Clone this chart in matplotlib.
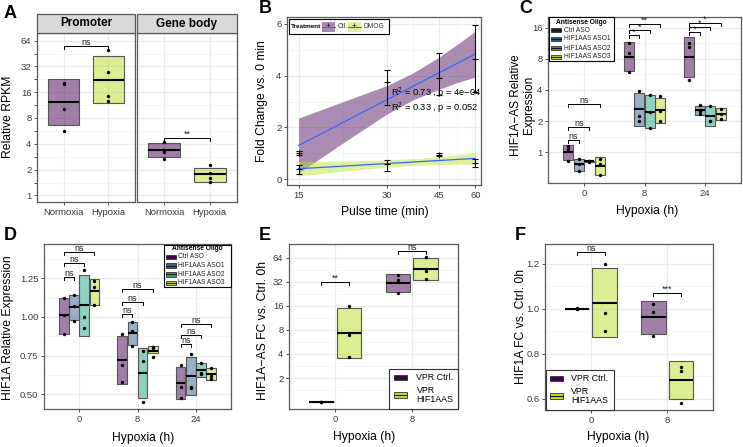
import matplotlib
matplotlib.use('Agg')
import matplotlib.pyplot as plt
from matplotlib.patches import Rectangle
from matplotlib.lines import Line2D
from matplotlib.colors import to_rgba
from matplotlib.ticker import NullFormatter
from matplotlib.transforms import blended_transform_factory

plt.rcParams['font.family'] = ['Liberation Sans', 'DejaVu Sans']
plt.rcParams['mathtext.fontset'] = 'custom'
plt.rcParams['mathtext.rm'] = 'Liberation Sans'
plt.rcParams['mathtext.it'] = 'Liberation Sans:italic'

W, H = 743, 447

# ---------------- data ----------------
# A: relative RPKM, mean +/- sd boxes (log2 scale)
a_groups = ['Normoxia', 'Hypoxia']
prom_lo = [6.6, 12.0]
prom_mid = [12.4, 22.2]
prom_hi = [22.6, 42.3]
prom_pts = [[5.6, 10.3, 19.7, 20.3], [12.6, 14.4, 27.3, 49.8]]
body_lo = [2.81, 1.42]
body_mid = [3.37, 1.75]
body_hi = [4.03, 2.08]
body_pts = [[2.68, 3.2, 3.4, 4.2], [1.42, 1.6, 1.8, 2.24]]

# B: fold change vs pulse time
b_time = [15, 30, 45, 60]
ctl_mean = [1.0, 3.74, 3.91, 4.64]
ctl_err_lo = [0.92, 2.86, 3.26, 3.38]
ctl_err_hi = [1.08, 4.23, 4.86, 5.97]
dmog_mean = [0.37, 0.59, 0.95, 0.62]
dmog_err_lo = [0.2, 0.3, 0.89, 0.45]
dmog_err_hi = [0.55, 0.74, 1.02, 0.78]
fit_x = [15, 60]
ctl_fit = [1.30, 4.84]
dmog_fit = [0.40, 0.80]
band_x = [15, 21.2, 30, 36.7, 45, 52, 60]
ctl_band_lo = [0.24, 1.39, 2.52, 3.06, 3.47, 3.73, 3.95]
ctl_band_hi = [2.36, 2.99, 3.62, 4.10, 4.71, 5.21, 5.72]
dmog_band_lo = [0.12, 0.30, 0.46, 0.53, 0.56, 0.58, 0.57]
dmog_band_hi = [0.68, 0.70, 0.74, 0.79, 0.86, 0.94, 1.03]

# C / D: antisense oligos at 0, 8, 24 h hypoxia
hyp_labels = ['0', '8', '24']
aso_names = ['Ctrl ASO', 'HIF1AAS ASO1', 'HIF1AAS ASO2', 'HIF1AAS ASO3']
aso_colors = ['#440154', '#33638D', '#21A685', '#BBDF27']

c_lo = [[0.84, 0.66, 0.81, 0.60], [6.1, 1.79, 1.73, 1.93], [5.33, 2.30, 1.80, 2.07]]
c_mid = [[1.0, 0.77, 0.82, 0.74], [8.4, 2.61, 2.46, 2.59], [8.3, 2.57, 2.25, 2.37]]
c_hi = [[1.18, 0.87, 0.83, 0.90], [11.6, 3.74, 3.60, 3.38], [12.9, 2.80, 2.79, 2.70]]
c_pts = [[[0.83, 1.07, 1.15], [0.66, 0.77, 0.87], [0.81, 0.82, 0.83], [0.60, 0.78, 0.86]],
         [[5.95, 9.1, 11.3], [2.01, 2.23, 3.94], [1.72, 2.46, 3.6], [2.0, 2.5, 3.48]],
         [[5.0, 10.4, 11.3], [2.34, 2.5, 2.85], [2.0, 2.0, 2.83], [2.1, 2.37, 2.65]]]
c_sig = [['ns', 'ns', 'ns'], ['*', '*', '**'], ['*', '*', '*']]
c_sig_y = [[1.31, 1.76, 2.95], [13.4, 15.0, 17.3], [14.4, 16.1, 17.8]]

d_lo = [[0.89, 0.98, 0.876, 1.077], [0.568, 0.82, 0.474, 0.765], [0.473, 0.494, 0.61, 0.595]]
d_mid = [[1.01, 1.066, 1.077, 1.167], [0.724, 0.895, 0.639, 0.782], [0.575, 0.617, 0.655, 0.63]]
d_hi = [[1.12, 1.145, 1.27, 1.248], [0.878, 0.97, 0.80, 0.815], [0.68, 0.74, 0.70, 0.67]]
d_pts = [[[0.89, 1.01, 1.12], [0.975, 1.07, 1.145], [0.927, 1.0, 1.305], [1.077, 1.195, 1.233]],
         [[0.58, 0.69, 0.89], [0.81, 0.91, 0.966], [0.453, 0.714, 0.778], [0.744, 0.80, 0.806]],
         [[0.48, 0.55, 0.69], [0.54, 0.55, 0.76], [0.63, 0.64, 0.70], [0.60, 0.62, 0.67]]]
d_sig_y = [[1.261, 1.351, 1.422], [1.018, 1.095, 1.179], [0.827, 0.885, 0.955]]

# E / F: VPR activation
vpr_names = ['VPR Ctrl.', 'VPR\nHIF1AAS']
vpr_colors = ['#440154', '#BBDF27']
e_lo = [[1.0, 3.54], [23.8, 33.9]]
e_mid = [[1.0, 7.27], [30.9, 46.6]]
e_hi = [[1.0, 14.9], [40.0, 63.6]]
e_pts = [[[1.0, 1.0, 1.0], [3.7, 7.0, 16.0]], [[23.2, 33.6, 38.5], [35.0, 44.0, 64.8]]]
e_sig = ['**', 'ns']
e_sig_y = [32.0, 78.0]

f_lo = [[1.0, 0.873], [0.889, 0.60]]
f_mid = [[1.0, 1.028], [0.963, 0.683]]
f_hi = [[1.0, 1.182], [1.034, 0.77]]
f_pts = [[[1.0, 1.0, 1.006], [0.90, 0.98, 1.2]], [[0.879, 0.988, 1.02], [0.582, 0.724, 0.742]]]
f_sig = ['ns', '***']
f_sig_y = [1.255, 1.072]

# ---------------- helpers ----------------
fig = plt.figure(figsize=(W / 100, H / 100), dpi=100)
TICK_C = '#3A3A3A'


def px_axes(l, t, r, b):
    return fig.add_axes([l / W, 1 - b / H, (r - l) / W, (b - t) / H])


def fig_text(x, y, s, **kw):
    return fig.text(x / W, 1 - y / H, s, **kw)


def fig_rect(x0, y0, x1, y1, **kw):
    fig.add_artist(Rectangle((x0 / W, 1 - y1 / H), (x1 - x0) / W, (y1 - y0) / H,
                             transform=fig.transFigure, **kw))


def fig_line(xs, ys, **kw):
    fig.add_artist(Line2D([x / W for x in xs], [1 - y / H for y in ys],
                          transform=fig.transFigure, **kw))


def style(ax):
    for s in ax.spines.values():
        s.set_color('#595959')
        s.set_linewidth(0.9)
    ax.grid(True, which='major', color='#EBEBEB', lw=0.9)
    ax.grid(True, which='minor', axis='y', color='#F3F3F3', lw=0.5)
    ax.set_axisbelow(True)
    ax.tick_params(which='major', direction='out', length=2.5, width=0.6, color='#333333',
                   labelsize=6.8, labelcolor=TICK_C, pad=1.5)
    ax.tick_params(which='minor', length=0)


def log2_axis(ax, lim, ticks, labels, minor):
    ax.set_yscale('log', base=2)
    ax.set_ylim(*lim)
    ax.set_yticks(ticks)
    ax.set_yticklabels(labels)
    ax.set_yticks(minor, minor=True)
    ax.yaxis.set_minor_formatter(NullFormatter())


def boxes(ax, xs, lo, mid, hi, width, colors, pts):
    heights = [h - l for l, h in zip(lo, hi)]
    ax.bar(xs, heights, bottom=lo, width=width, color=[to_rgba(c, 0.5) for c in colors],
           edgecolor='#555555', linewidth=0.8, zorder=2)
    ax.hlines(mid, [x - width / 2 for x in xs], [x + width / 2 for x in xs],
              color='black', lw=1.5, zorder=3)
    for x, p in zip(xs, pts):
        ax.scatter([x] * len(p), p, s=6, color='black', linewidths=0, zorder=4)


def bracket(ax, x1, x2, y, label, fs=6.4):
    tip = 3 / ax.bbox.height
    ya = ax.transAxes.inverted().transform(ax.transData.transform((x1, y)))[1]
    tr = blended_transform_factory(ax.transData, ax.transAxes)
    ax.plot([x1, x1, x2, x2], [ya - tip, ya, ya, ya - tip], transform=tr,
            color='black', lw=0.7, clip_on=False, zorder=5)
    ax.text((x1 + x2) / 2, ya + 1 / ax.bbox.height, label, transform=tr,
            ha='center', va='baseline', fontsize=fs, color='#222222')


def swatch(x, y, w, h, color):
    fig_rect(x, y - h / 2, x + w, y + h / 2, facecolor=color, edgecolor='#333333', lw=0.6, zorder=6)
    fig_line([x, x + w], [y, y], color='#1A1A1A', lw=0.8, zorder=7)


# ---------------- A ----------------
axA1 = px_axes(37, 33, 135, 202)
axA2 = px_axes(137, 33, 237, 202)
a_ticks = [1, 2, 4, 8, 16, 32, 64]
a_minor = [1.41, 2.83, 5.66, 11.3, 22.6, 45.3]
a_cols = [aso_colors[0], aso_colors[3]]
for ax, lo, mid, hi, pts, title, x0, x1 in [
        (axA1, prom_lo, prom_mid, prom_hi, prom_pts, 'Promoter', 37, 135),
        (axA2, body_lo, body_mid, body_hi, body_pts, 'Gene body', 137, 237)]:
    style(ax)
    log2_axis(ax, (0.835, 78.7), a_ticks, [str(t) for t in a_ticks], a_minor)
    ax.set_xlim(0.4, 2.6)
    ax.set_xticks([1, 2])
    ax.set_xticklabels(a_groups)
    ax.tick_params(which='minor', axis='y', length=2.5, width=0.6, color='#333333')
    boxes(ax, [1, 2], lo, mid, hi, 0.7, a_cols, pts)
    fig_rect(x0, 14, x1, 33, facecolor='#D9D9D9', edgecolor='#595959', lw=0.9)
    fig_text((x0 + x1) / 2, 23.5, title, ha='center', va='center', fontsize=8.5, fontweight='bold')
axA2.tick_params(axis='y', which='both', left=False, labelleft=False)
bracket(axA1, 1, 2, 55.5, 'ns')
bracket(axA2, 1, 2, 4.68, '**')
fig_text(8.5, 117, 'Relative RPKM', rotation=90, ha='center', va='center', fontsize=8.7)

# ---------------- B ----------------
axB = px_axes(287, 17, 481, 185)
style(axB)
axB.set_xscale('log')
axB.set_xlim(13.69, 62.7)
axB.set_ylim(-0.23, 6.27)
axB.set_xticks(b_time)
axB.set_xticklabels([str(t) for t in b_time])
axB.set_xticks([21.2, 36.7, 52.0], minor=True)
axB.xaxis.set_minor_formatter(NullFormatter())
axB.set_yticks([0, 2, 4, 6])
axB.set_yticks([1, 3, 5], minor=True)
axB.grid(True, which='minor', axis='x', color='#F3F3F3', lw=0.5)
axB.fill_between(band_x, ctl_band_lo, ctl_band_hi, color=to_rgba(aso_colors[0], 0.45), lw=0, zorder=1)
axB.fill_between(band_x, dmog_band_lo, dmog_band_hi, color=to_rgba(aso_colors[3], 0.45), lw=0, zorder=1)
axB.plot(fit_x, ctl_fit, color='#3366FF', lw=0.9, zorder=2)
axB.plot(fit_x, dmog_fit, color='#3366FF', lw=0.9, zorder=2)
for mean, lo, hi in [(ctl_mean, ctl_err_lo, ctl_err_hi), (dmog_mean, dmog_err_lo, dmog_err_hi)]:
    yerr = [[m - l for m, l in zip(mean, lo)], [h - m for m, h in zip(mean, hi)]]
    axB.errorbar(b_time, mean, yerr=yerr, fmt='+', color='black', ms=5, mew=0.8,
                 elinewidth=0.7, capsize=2.3, capthick=0.7, zorder=3)
axB.text(0.535, 0.548, r'R$^2$ = 0.73 , p = 4e−04', transform=axB.transAxes, fontsize=6.7, va='center')
axB.text(0.535, 0.458, r'R$^2$ = 0.33 , p = 0.052', transform=axB.transAxes, fontsize=6.7, va='center')
# legend
fig_rect(289, 19, 389, 34, facecolor='white', edgecolor='black', lw=0.8, zorder=5)
fig_text(291, 26.5, 'Treatment', fontsize=4.6, fontweight='bold', va='center', zorder=6)
for sx, col, lab in [(322, aso_colors[0], 'Ctl.'), (348, aso_colors[3], 'DMOG')]:
    fig_rect(sx, 21.5, sx + 13, 31.5, facecolor=to_rgba(col, 0.45), edgecolor='none', zorder=6)
    fig_line([sx, sx + 13], [26.5, 26.5], color='#3366FF', lw=0.8, zorder=7)
    fig_text(sx + 6.5, 26.5, '+', fontsize=6, ha='center', va='center', zorder=8)
    fig_text(sx + 15.5, 26.5, lab, fontsize=4.8, va='center', color='#333333', zorder=8)
fig_text(262, 101, 'Fold Change vs. 0 min', rotation=90, ha='center', va='center', fontsize=8.7)
fig_text(385, 212, 'Pulse time (min)', ha='center', va='center', fontsize=8.7)

# ---------------- C ----------------
offsets = [-0.2625, -0.0875, 0.0875, 0.2625]
axC = px_axes(548, 17, 741, 183)
style(axC)
log2_axis(axC, (0.508, 20.2), [1, 2, 4, 8, 16], ['1', '2', '4', '8', '16'], [1.41, 2.83, 5.66, 11.3])
axC.set_xlim(0.4, 3.6)
axC.set_xticks([1, 2, 3])
axC.set_xticklabels(hyp_labels)
for g in range(3):
    xs = [g + 1 + o for o in offsets]
    boxes(axC, xs, c_lo[g], c_mid[g], c_hi[g], 0.165, aso_colors, c_pts[g])
    for k in range(3):
        bracket(axC, xs[0], xs[k + 1], c_sig_y[g][k], c_sig[g][k])
fig_rect(548.5, 17.5, 614, 61, facecolor='white', edgecolor='black', lw=0.8, zorder=5)
fig_text(581, 22, 'Antisense Oligo', ha='center', va='center', fontsize=4.8, fontweight='bold', zorder=6)
for ry, col, lab in zip([30, 39, 48, 57], aso_colors, aso_names):
    swatch(550.5, ry, 10.5, 4.5, col)
    fig_text(563.5, ry, lab, fontsize=4.8, va='center', color='#222222', zorder=8)
fig_text(522.5, 105, 'HIF1A\u2212AS Relative\nExpression', rotation=90, ha='center', va='center',
         fontsize=8.5, linespacing=1.02)
fig_text(647, 211, 'Hypoxia (h)', ha='center', va='center', fontsize=8.7)

# ---------------- D ----------------
axD = px_axes(44, 244, 231, 409)
style(axD)
axD.set_ylim(0.406, 1.471)
axD.set_yticks([0.5, 0.75, 1.0, 1.25])
axD.set_yticklabels(['0.50', '0.75', '1.00', '1.25'])
axD.set_yticks([0.625, 0.875, 1.125, 1.375], minor=True)
axD.set_xlim(0.4, 3.6)
axD.set_xticks([1, 2, 3])
axD.set_xticklabels(hyp_labels)
for g in range(3):
    xs = [g + 1 + o for o in offsets]
    boxes(axD, xs, d_lo[g], d_mid[g], d_hi[g], 0.165, aso_colors, d_pts[g])
    for k in range(3):
        bracket(axD, xs[0], xs[k + 1], d_sig_y[g][k], 'ns')
fig_rect(163.5, 244.5, 231, 287, facecolor='white', edgecolor='black', lw=0.8, zorder=5)
fig_text(197, 248.5, 'Antisense Oligo', ha='center', va='center', fontsize=4.8, fontweight='bold', zorder=6)
for ry, col, lab in zip([257, 265.7, 274.4, 283], aso_colors, aso_names):
    swatch(165.5, ry, 10.5, 4.5, col)
    fig_text(178.5, ry, lab, fontsize=4.8, va='center', color='#222222', zorder=8)
fig_text(8, 328, 'HIF1A Relative Expression', rotation=90, ha='center', va='center', fontsize=8.7)
fig_text(143, 438, 'Hypoxia (h)', ha='center', va='center', fontsize=8.7)

# ---------------- E / F ----------------
vpr_off = [-0.18, 0.18]
axE = px_axes(289, 244, 458, 409)
axF = px_axes(545, 244, 713, 410)
style(axE)
style(axF)
log2_axis(axE, (0.82, 94.9), [2, 4, 8, 16, 32, 64], ['2', '4', '8', '16', '32', '64'],
          [1.41, 2.83, 5.66, 11.3, 22.6, 45.3])
axF.set_ylim(0.55, 1.289)
axF.set_yticks([0.6, 0.8, 1.0, 1.2])
axF.set_yticklabels(['0.6', '0.8', '1.0', '1.2'])
axF.set_yticks([0.7, 0.9, 1.1], minor=True)
for ax, lo, mid, hi, pts, sig, sig_y in [(axE, e_lo, e_mid, e_hi, e_pts, e_sig, e_sig_y),
                                          (axF, f_lo, f_mid, f_hi, f_pts, f_sig, f_sig_y)]:
    ax.set_xlim(0.4, 2.6)
    ax.set_xticks([1, 2])
    ax.set_xticklabels(['0', '8'])
    for g in range(2):
        xs = [g + 1 + o for o in vpr_off]
        boxes(ax, xs, lo[g], mid[g], hi[g], 0.32, vpr_colors, pts[g])
        bracket(ax, xs[0], xs[1], sig_y[g], sig[g])

for bx0, bx1, by0, by1, sx, tx in [(389, 458, 369, 409, 393.5, 416.5), (546, 614, 370, 410, 549.5, 571)]:
    fig_rect(bx0, by0, bx1, by1, facecolor='white', edgecolor='#333333', lw=0.8, zorder=5)
    swatch(sx, by0 + 8.5, 13.5, 5.5, vpr_colors[0])
    swatch(sx, by0 + 26, 13.5, 5.5, vpr_colors[1])
    fig_text(tx, by0 + 8.5, vpr_names[0], fontsize=6.4, va='center', zorder=8)
    fig_text(tx, by0 + 26, vpr_names[1], fontsize=6.4, va='center', linespacing=1.05, zorder=8)

fig_text(263, 330, 'HIF1A\u2212AS FC vs. Ctrl. 0h', rotation=90, ha='center', va='center', fontsize=8.7)
fig_text(364, 437, 'Hypoxia (h)', ha='center', va='center', fontsize=8.7)
fig_text(521, 327, 'HIF1A FC vs. Ctrl. 0h', rotation=90, ha='center', va='center', fontsize=8.7)
fig_text(618, 437, 'Hypoxia (h)', ha='center', va='center', fontsize=8.7)

# panel letters
for lx, ly, letter in [(4, 13, 'A'), (259, 8.5, 'B'), (519, 8.5, 'C'),
                       (4, 235, 'D'), (259, 235, 'E'), (515, 235, 'F')]:
    fig_text(lx, ly, letter, fontsize=13, fontweight='bold', va='center')

fig.savefig('out.png', dpi=100)
